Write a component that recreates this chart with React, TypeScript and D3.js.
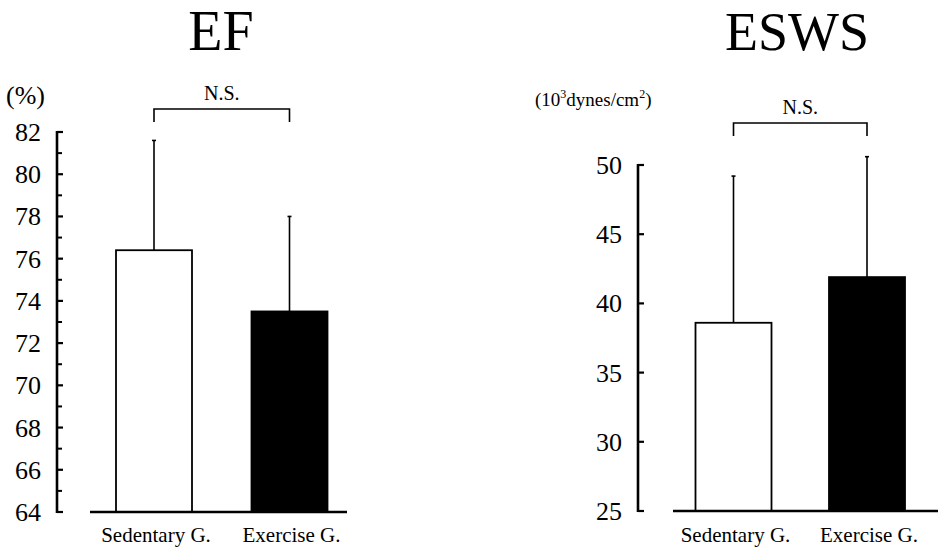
import React from "react";
import * as d3 from "d3";

const categories = ["Sedentary G.", "Exercise G."];
const efMeans = [76.4, 73.5];
const efSD = [5.2, 4.5];
const efMajorTicks = [64, 66, 68, 70, 72, 74, 76, 78, 80, 82];
const efMinorTicks = [65, 67, 69, 71, 73, 75, 77, 79, 81];
const eswsMeans = [38.6, 41.9];
const eswsSD = [10.6, 8.7];
const eswsMajorTicks = [25, 30, 35, 40, 45, 50];
const eswsMinorTicks: number[] = [];
const barFills = ["#fff", "#000"];

const FONT = "Liberation Serif";

type PanelProps = {
  title: string;
  titleX: number;
  titleSize: number;
  means: number[];
  sds: number[];
  majorTicks: number[];
  minorTicks: number[];
  domain: [number, number];
  yRange: [number, number];
  axisX: number;
  baseX: [number, number];
  centers: [number, number];
  barW: number;
  bracketY: number;
  bracketDrop: number;
  nsY: number;
  unit: React.ReactNode;
};

function Panel(p: PanelProps) {
  const y = d3.scaleLinear().domain(p.domain).range(p.yRange);
  const x = d3.scalePoint<string>().domain(categories).range(p.centers);
  const base = y(p.domain[0]);
  const cx0 = x(categories[0])!;
  const cx1 = x(categories[1])!;
  return (
    <g>
      <text x={p.titleX} y={50} fontSize={p.titleSize} textAnchor="middle" fontFamily={FONT}>
        {p.title}
      </text>
      {p.unit}
      <line x1={p.axisX} x2={p.axisX} y1={y(p.domain[1]) - 1} y2={base + 1} stroke="#000" strokeWidth={2.6} />
      {p.majorTicks.map((t) => (
        <g key={"M" + t}>
          <line x1={p.axisX} x2={p.axisX + 6} y1={y(t)} y2={y(t)} stroke="#000" strokeWidth={2.2} />
          <text x={p.axisX - 16} y={y(t) + 9} fontSize={26} textAnchor="end" fontFamily={FONT}>
            {t}
          </text>
        </g>
      ))}
      {p.minorTicks.map((t) => (
        <line key={"m" + t} x1={p.axisX} x2={p.axisX + 5} y1={y(t)} y2={y(t)} stroke="#000" strokeWidth={2} />
      ))}
      {categories.map((c, i) => {
        const cx = x(c)!;
        const top = y(p.means[i]);
        const errTop = y(p.means[i] + p.sds[i]);
        return (
          <g key={c}>
            <line x1={cx} x2={cx} y1={top} y2={errTop} stroke="#000" strokeWidth={1.6} />
            <line x1={cx - 2} x2={cx + 2} y1={errTop} y2={errTop} stroke="#000" strokeWidth={1.6} />
            <rect
              x={cx - p.barW / 2}
              y={top}
              width={p.barW}
              height={base - top}
              fill={barFills[i]}
              stroke="#000"
              strokeWidth={1.8}
            />
            <text x={cx + 2} y={542} fontSize={21} textAnchor="middle" fontFamily={FONT}>
              {c}
            </text>
          </g>
        );
      })}
      <line x1={p.baseX[0]} x2={p.baseX[1]} y1={base} y2={base} stroke="#000" strokeWidth={2.6} />
      <path
        d={`M${cx0},${p.bracketY + p.bracketDrop}V${p.bracketY}H${cx1}V${p.bracketY + p.bracketDrop}`}
        fill="none"
        stroke="#000"
        strokeWidth={1.6}
      />
      <text x={(cx0 + cx1) / 2} y={p.nsY} fontSize={20} textAnchor="middle" fontFamily={FONT}>
        N.S.
      </text>
    </g>
  );
}

export default function App() {
  return (
    <svg
      width={938}
      height={551}
      style={{ position: "absolute", left: 0, top: 0, background: "#fff" }}
    >
      <rect width={938} height={551} fill="#fff" />
      <Panel
        title="EF"
        titleX={221}
        titleSize={56}
        means={efMeans}
        sds={efSD}
        majorTicks={efMajorTicks}
        minorTicks={efMinorTicks}
        domain={[64, 82]}
        yRange={[512, 132]}
        axisX={57}
        baseX={[90, 347]}
        centers={[154, 289.5]}
        barW={76}
        bracketY={109}
        bracketDrop={13}
        nsY={100}
        unit={
          <text x={6} y={104} fontSize={26} fontFamily={FONT}>
            (%)
          </text>
        }
      />
      <Panel
        title="ESWS"
        titleX={797}
        titleSize={54}
        means={eswsMeans}
        sds={eswsSD}
        majorTicks={eswsMajorTicks}
        minorTicks={eswsMinorTicks}
        domain={[25, 50]}
        yRange={[511, 165]}
        axisX={638}
        baseX={[673, 938]}
        centers={[733.5, 867]}
        barW={76}
        bracketY={123}
        bracketDrop={13}
        nsY={114}
        unit={
          <text x={535} y={106} fontSize={19} fontFamily={FONT}>
            (10
            <tspan fontSize={12} dy={-8}>3</tspan>
            <tspan dy={8}>dynes/cm</tspan>
            <tspan fontSize={12} dy={-8}>2</tspan>
            <tspan dy={8}>)</tspan>
          </text>
        }
      />
    </svg>
  );
}
